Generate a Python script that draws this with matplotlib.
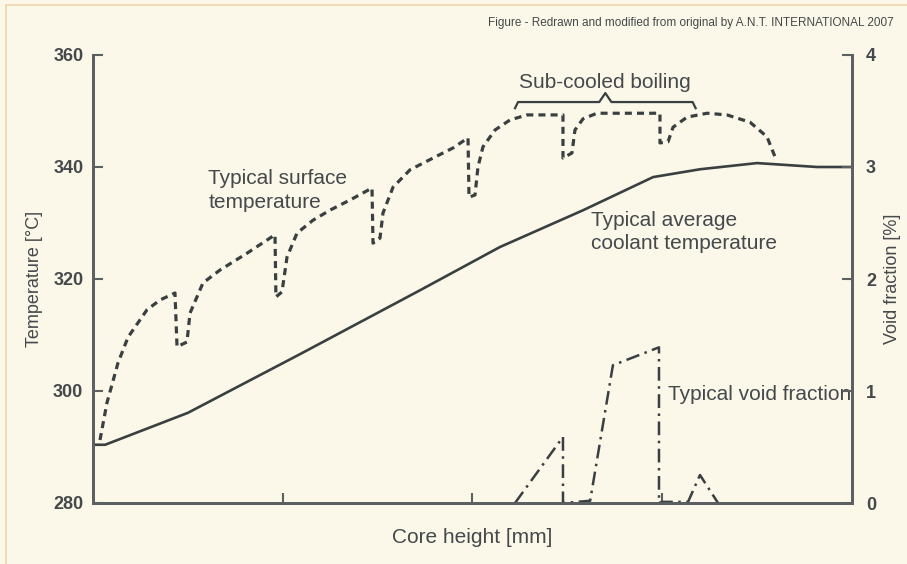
import matplotlib
matplotlib.use("Agg")
import matplotlib.pyplot as plt
from matplotlib.patches import Rectangle

# --- data: core height in relative units (0-100) ---
coolant_x = [0, 1.6, 12.5, 27.3, 43.1, 53.6, 64.6, 73.8, 80.0, 87.5, 95.4, 100]
coolant_t = [290.4, 290.4, 296.1, 306.6, 318.0, 325.7, 332.3, 338.2, 339.6, 340.7, 340.0, 340.0]

surface_x = [0.92, 1.84, 3.29, 4.61, 7.11, 8.83, 10.8,
             11.07, 12.38, 12.78, 14.49, 16.73, 20.29, 23.98,
             24.1, 24.9, 25.56, 26.88, 28.99, 31.23, 33.86, 36.76,
             36.89, 37.81, 38.21, 39.53, 41.77, 44.8, 47.43, 49.41,
             49.54, 50.33, 50.72, 51.38, 52.96, 54.94, 57.18, 61.92,
             61.92, 63.1, 63.5, 64.56, 66.4, 74.7,
             74.7, 75.76, 76.42, 78.26, 80.9, 83.53, 86.56, 88.8, 89.86]
surface_t = [291.25, 297.9, 305.0, 309.6, 314.5, 316.25, 317.5,
             307.9, 308.75, 313.9, 319.3, 321.6, 324.6, 327.9,
             316.8, 317.7, 323.9, 328.2, 330.5, 332.3, 334.1, 336.25,
             326.4, 327.3, 331.8, 336.4, 339.5, 341.6, 343.4, 345.2,
             334.6, 335.0, 340.0, 343.6, 346.6, 348.4, 349.3, 349.3,
             341.6, 342.5, 346.6, 348.6, 349.6, 349.6,
             344.3, 344.5, 347.1, 348.9, 349.6, 349.3, 348.0, 345.4, 341.8]

void_x = [55.6, 61.92, 61.92, 65.5, 68.5, 74.57, 74.57, 74.97, 78.4, 79.97, 82.35]
void_v = [0.0, 0.59, 0.0, 0.02, 1.23, 1.39, 0.0, 0.01, 0.01, 0.25, 0.0]

temp_ticks = [280, 300, 320, 340, 360]
void_ticks = [0, 1, 2, 3, 4]
height_ticks = [25, 50, 75]

BG = "#fbf8e9"
INK = "#3a3f41"
AXIS = "#5c6062"
TXT = "#45494b"

plt.rcParams["font.family"] = ["Liberation Sans", "DejaVu Sans"]

fig = plt.figure(figsize=(9.07, 5.64), dpi=100, facecolor=BG)
fig.patches.append(Rectangle((6 / 907, -0.01), 1, 1 - 5 / 564 + 0.01, transform=fig.transFigure,
                             fill=False, edgecolor="#f0d8b2", linewidth=1.3))

ax = fig.add_axes([93 / 907, 1 - 503 / 564, 759 / 907, 448 / 564])
ax.set_facecolor(BG)
ax2 = ax.twinx()

# curves
ax.plot(coolant_x, coolant_t, color=INK, lw=1.9, solid_joinstyle="round")
ax.plot(surface_x, surface_t, color=INK, lw=2.3, dashes=(2.2, 1.6))
ax2.plot(void_x, void_v, color=INK, lw=1.8, dashes=(5.5, 2.2, 1.0, 2.2))

ax.set_xlim(0, 100)
ax.set_ylim(280, 360)
ax2.set_ylim(0, 4)

for a in (ax, ax2):
    a.spines["top"].set_visible(False)
    for s in ("left", "right", "bottom"):
        a.spines[s].set_color(AXIS)
        a.spines[s].set_linewidth(2.0)

ax.set_xticks(height_ticks)
ax.set_xticklabels([])
ax.set_yticks(temp_ticks)
ax.tick_params(axis="both", direction="in", length=7, width=1.5, color=AXIS,
               labelsize=13, labelcolor=TXT, pad=7)
ax2.set_yticks(void_ticks)
ax2.tick_params(axis="y", direction="in", length=7, width=1.5, color=AXIS,
                labelsize=13, labelcolor=TXT, pad=10)
for lab in ax.get_yticklabels() + ax2.get_yticklabels():
    lab.set_fontweight("bold")

ax.set_ylabel("Temperature [°C]", fontsize=13, color=TXT, labelpad=7)
ax2.set_ylabel("Void fraction [%]", fontsize=13, color=TXT, rotation=90, labelpad=6)
ax.set_xlabel("Core height [mm]", fontsize=15, color=TXT, labelpad=11)

# annotations
ax.text(15.2, 335.8, "Typical surface\ntemperature", fontsize=15, color=TXT,
        va="center", ha="left", linespacing=1.3)
ax.text(65.6, 328.4, "Typical average\ncoolant temperature", fontsize=15, color=TXT,
        va="center", ha="left", linespacing=1.3)
ax.text(75.7, 299.3, "Typical void fraction", fontsize=15, color=TXT,
        va="center", ha="left")
ax.text(67.5, 355.0, "Sub-cooled boiling", fontsize=15, color=TXT,
        va="center", ha="center")

# brace over the sub-cooled boiling zone
brace_x = [55.6, 56.0, 66.7, 67.5, 68.3, 79.0, 79.4]
brace_t = [350.5, 351.6, 351.6, 353.2, 351.6, 351.6, 350.5]
ax.plot(brace_x, brace_t, color=INK, lw=1.6, clip_on=False)

fig.text(894 / 907, 1 - 23 / 564,
         "Figure - Redrawn and modified from original by A.N.T. INTERNATIONAL 2007",
         fontsize=8.5, color=TXT, ha="right", va="center")

fig.savefig("out.png", dpi=100, facecolor=BG)
